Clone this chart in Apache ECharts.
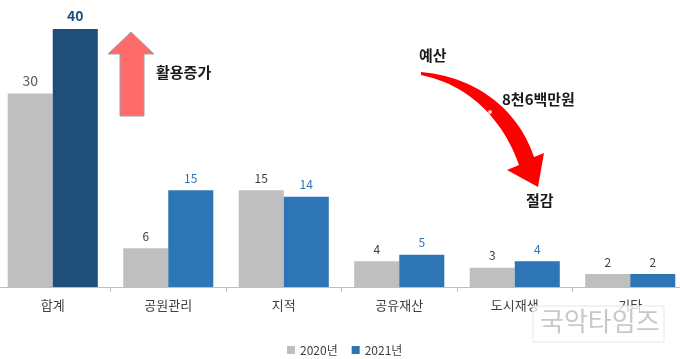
<!DOCTYPE html>
<html><head><meta charset="utf-8">
<script src="https://cdn.jsdelivr.net/npm/echarts@6/dist/echarts.min.js"></script>
<style>html,body{margin:0;padding:0;background:#fff}#c{width:680px;height:359px}</style>
</head><body><div id="c"></div>
<script>
const categories = ['합계', '공원관리', '지적', '공유재산', '도시재생', '기타'];
const values2020 = [30, 6, 15, 4, 3, 2];
const values2021 = [40, 15, 14, 5, 4, 2];
const seriesNames = ['2020년', '2021년'];

const FONT = '"Noto Sans CJK KR", "Noto Sans", sans-serif';
const chart = echarts.init(document.getElementById('c'));

function bez(p0, p1, p2, p3, n) {
  const pts = [];
  for (let k = 0; k <= n; k++) {
    const t = k / n, u = 1 - t;
    pts.push([
      u*u*u*p0[0] + 3*u*u*t*p1[0] + 3*u*t*t*p2[0] + t*t*t*p3[0],
      u*u*u*p0[1] + 3*u*u*t*p1[1] + 3*u*t*t*p2[1] + t*t*t*p3[1]
    ]);
  }
  return pts;
}
const arrowPts = [].concat(
  bez([421,72],[470,76],[516,104],[534,157], 24),
  [[544,153],[538,187],[507,170],[519,165]],
  bez([519,165],[503,120],[470,85],[421,75], 24)
);

const d2021 = values2021.map((v, i) => {
  const item = { value: v };
  if (i === 0) {
    item.itemStyle = { color: '#1f4e79' };
    item.label = { color: '#1f4e79', fontWeight: 'bold', fontSize: 14 };
  } else if (i === values2021.length - 1) {
    item.label = { color: '#404040' };
  }
  return item;
});
const d2020 = values2020.map((v, i) => {
  const item = { value: v };
  if (i === 0) item.label = { color: '#595959', fontSize: 14 };
  return item;
});

chart.setOption({
  animation: false,
  textStyle: { fontFamily: FONT },
  grid: { left: -5, width: 693, top: 29, bottom: 72, containLabel: false, outerBoundsMode: 'none' },
  legend: {
    left: 282, top: 339, itemWidth: 8, itemHeight: 8, itemGap: 14, icon: 'rect',
    textStyle: { fontSize: 12, color: '#404040', fontFamily: FONT },
    data: seriesNames
  },
  xAxis: {
    type: 'category', data: categories,
    axisLine: { lineStyle: { color: '#bfbfbf' } },
    axisTick: { show: true, length: 5, lineStyle: { color: '#bfbfbf' } },
    axisLabel: { fontSize: 13, color: '#404040', margin: 12, fontFamily: FONT }
  },
  yAxis: { type: 'value', min: 0, max: 40, show: false, splitLine: { show: false } },
  series: [
    {
      name: seriesNames[0], type: 'bar', data: d2020, barGap: '0%', barCategoryGap: '22%',
      itemStyle: { color: '#bfbfbf' },
      label: { show: true, position: 'top', distance: 6, fontSize: 12, color: '#404040', fontFamily: FONT }
    },
    {
      name: seriesNames[1], type: 'bar', data: d2021, barGap: '0%', barCategoryGap: '22%',
      itemStyle: { color: '#2e75b6' },
      label: { show: true, position: 'top', distance: 6, fontSize: 12, color: '#2e75b6', fontFamily: FONT }
    }
  ],
  graphic: [
    { type: 'polygon', shape: { points: [[131,32],[154,54],[144,54],[144,116],[120,116],[120,54],[108,54]] },
      style: { fill: '#ff6b6b', stroke: '#a0a0a0', lineWidth: 1 }, z: 10 },
    { type: 'text', x: 156, y: 65, style: { text: '활용증가', font: 'bold 15px ' + FONT, fill: '#1a1a1a' }, z: 10 },
    { type: 'polygon', shape: { points: arrowPts }, style: { fill: '#ff0000' }, z: 10 },
    { type: 'circle', shape: { cx: 490, cy: 112, r: 2 }, style: { fill: '#ffc8c8' }, z: 11 },
    { type: 'text', x: 419, y: 48, style: { text: '예산', font: 'bold 15px ' + FONT, fill: '#1a1a1a' }, z: 10 },
    { type: 'text', x: 502, y: 92, style: { text: '8천6백만원', font: 'bold 15px ' + FONT, fill: '#1a1a1a' }, z: 10 },
    { type: 'text', x: 526, y: 193, style: { text: '절감', font: 'bold 15px ' + FONT, fill: '#1a1a1a' }, z: 10 },
    { type: 'rect', shape: { x: 533, y: 306, width: 131, height: 36 },
      style: { fill: 'rgba(255,255,255,0.75)', stroke: '#e6e6e6', lineWidth: 1 }, z: 20 },
    { type: 'text', x: 540, y: 308, style: { text: '국악타임즈', font: '26px ' + FONT, fill: '#c8c8c8' }, z: 21 }
  ]
});
</script></body></html>
